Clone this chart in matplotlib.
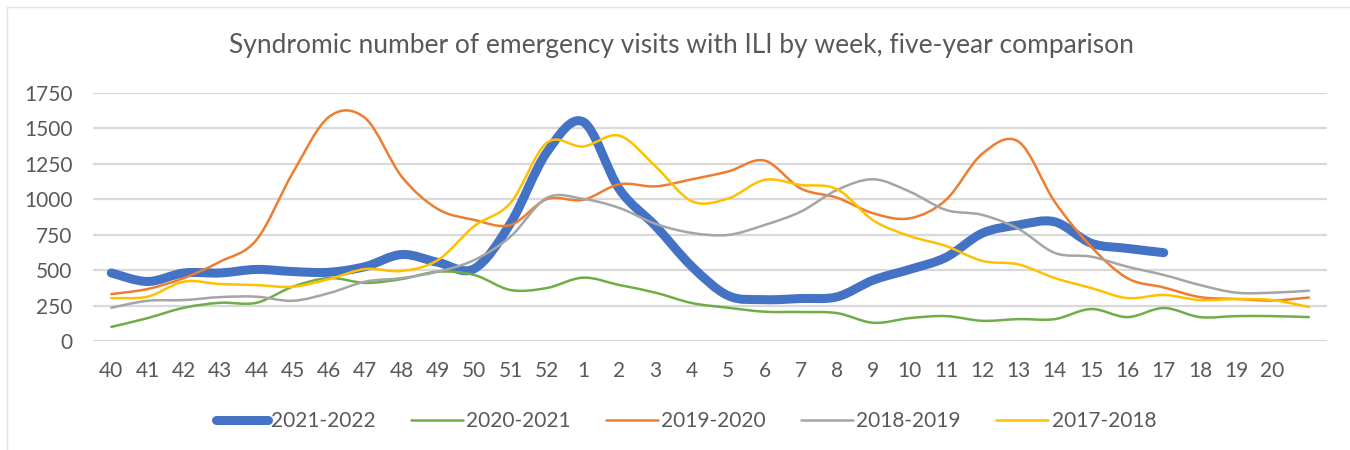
import numpy as np
import matplotlib
matplotlib.use("Agg")
import matplotlib.pyplot as plt
from matplotlib.path import Path
from matplotlib.patches import PathPatch, Rectangle
from matplotlib.lines import Line2D

plt.rcParams['font.family'] = ['Lato', 'DejaVu Sans']

# semanas epidemiologicas (la ultima sin etiqueta)
semanas = ['40', '41', '42', '43', '44', '45', '46', '47', '48', '49', '50', '51', '52',
           '1', '2', '3', '4', '5', '6', '7', '8', '9', '10', '11', '12', '13', '14',
           '15', '16', '17', '18', '19', '20', '']

s2021_2022 = [480, 420, 480, 480, 505, 490, 485, 525, 610, 555, 510, 830, 1330,
              1545, 1070, 810, 525, 320, 292, 300, 312, 430, 505, 590, 760, 818,
              840, 690, 653, 623]
s2020_2021 = [100, 162, 235, 270, 270, 383, 444, 410, 437, 489, 466, 360, 374,
              447, 395, 341, 268, 235, 207, 205, 197, 129, 162, 176, 143, 155,
              155, 226, 169, 233, 169, 176, 176, 169]
s2019_2020 = [331, 367, 444, 560, 713, 1185, 1580, 1570, 1160, 930, 854, 818, 1000,
              995, 1105, 1090, 1140, 1195, 1272, 1075, 1010, 900, 865, 995, 1320, 1405,
              980, 665, 443, 378, 310, 297, 286, 307]
s2018_2019 = [235, 284, 289, 310, 313, 284, 338, 419, 444, 489, 571, 736, 1009,
              1002, 938, 826, 762, 748, 818, 912, 1065, 1140, 1053, 924, 889, 790,
              621, 595, 524, 466, 395, 341, 341, 355]
s2017_2018 = [303, 313, 419, 402, 395, 383, 437, 508, 494, 571, 810, 973, 1397,
              1371, 1447, 1230, 985, 1005, 1136, 1100, 1070, 850, 740, 670, 565, 540,
              444, 374, 303, 325, 289, 296, 289, 240]

etiquetas = ['2021-2022', '2020-2021', '2019-2020', '2018-2019', '2017-2018']
series = [s2021_2022, s2020_2021, s2019_2020, s2018_2019, s2017_2018]
colores = ['#4472C4', '#70AD47', '#ED7D31', '#A5A5A5', '#FFC000']
grosores = [6.5, 1.8, 1.8, 1.8, 1.8]


def curva_suave(y):
    # linea suavizada tipo Excel: tramos bezier entre los puntos
    x = np.arange(len(y), dtype=float)
    p = np.column_stack((x, np.array(y, dtype=float)))
    verts = [p[0]]
    codes = [Path.MOVETO]
    n = len(p)
    for i in range(n - 1):
        p0 = p[i - 1] if i > 0 else p[i]
        p3 = p[i + 2] if i + 2 < n else p[i + 1]
        c1 = p[i] + (p[i + 1] - p0) / 6.0
        c2 = p[i + 1] - (p3 - p[i]) / 6.0
        verts += [c1, c2, p[i + 1]]
        codes += [Path.CURVE4] * 3
    return Path(verts, codes)


fig = plt.figure(figsize=(13.5, 4.5), dpi=100)
ax = fig.add_axes([0.069, 0.242, 0.914, 0.552])

for datos, color, lw in zip(series, colores, grosores):
    patch = PathPatch(curva_suave(datos), facecolor='none', edgecolor=color,
                      lw=lw, capstyle='round', joinstyle='round', zorder=3)
    ax.add_patch(patch)

ax.set_xlim(-0.5, len(semanas) - 0.5)
ax.set_ylim(0, 1750)
ax.set_yticks(np.arange(0, 1751, 250))
ax.set_xticks(np.arange(len(semanas)))
ax.set_xticklabels(semanas)
ax.tick_params(axis='both', length=0, labelsize=15, colors='#595959')
ax.tick_params(axis='x', pad=14)
ax.tick_params(axis='y', pad=15)
ax.grid(axis='y', color='#D9D9D9', lw=1.6)
ax.set_axisbelow(True)
for s in ax.spines.values():
    s.set_visible(False)

fig.text(0.505, 0.9, 'Syndromic number of emergency visits with ILI by week, five-year comparison',
         ha='center', va='center', fontsize=19, color='#595959')

handles = [Line2D([], [], color=c, lw=lw, solid_capstyle='round') for c, lw in zip(colores, grosores)]
fig.legend(handles, etiquetas, loc='center', bbox_to_anchor=(0.508, 0.064), ncol=5,
           frameon=False, fontsize=15, labelcolor='#595959', handlelength=2.5,
           handletextpad=0.15, columnspacing=1.7)

fig.patches.append(Rectangle((0.005, -0.1), 1.2, 1.084, transform=fig.transFigure,
                             fill=False, edgecolor='#E3E3E3', lw=1))

fig.savefig('out.png', dpi=100, facecolor='white')
